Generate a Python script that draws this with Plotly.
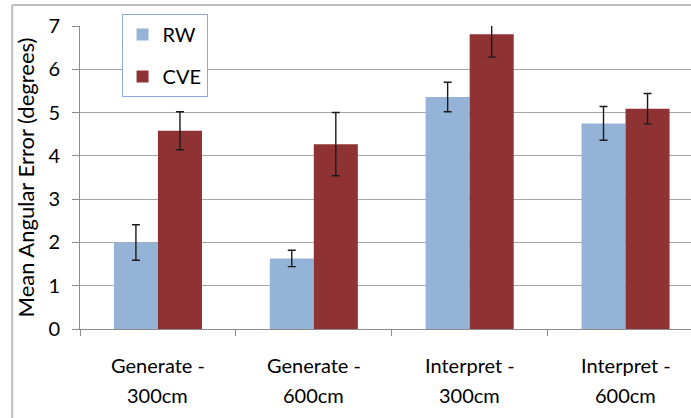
import plotly.graph_objects as go

# Conditions and per-technique results
conditions = ["Generate - 300cm", "Generate - 600cm", "Interpret - 300cm", "Interpret - 600cm"]
label_top = ["Generate -", "Generate -", "Interpret -", "Interpret -"]
label_bottom = ["300cm", "600cm", "300cm", "600cm"]

rw_mean = [2.00, 1.63, 5.36, 4.75]
rw_err = [0.41, 0.19, 0.34, 0.39]
cve_mean = [4.58, 4.27, 6.81, 5.09]
cve_err = [0.44, 0.73, 0.53, 0.35]

y_ticks = [0, 1, 2, 3, 4, 5, 6, 7]

FONT = "Lato, 'Open Sans', sans-serif"
BLUE = "#95b3d7"
RED = "#8f3234"
GRID = "#a6a6a6"

err_style = dict(type="data", visible=True, thickness=1.4, width=4, color="#1a1a1a")

fig = go.Figure()
fig.add_trace(go.Bar(
    x=conditions, y=rw_mean, name="RW", legendgroup="rw",
    marker=dict(color=BLUE, line=dict(width=0)),
    error_y=dict(array=rw_err, **err_style),
))
fig.add_trace(go.Bar(
    x=conditions, y=cve_mean, name="CVE", legendgroup="cve",
    marker=dict(color=RED, line=dict(width=0)),
    error_y=dict(array=cve_err, **err_style),
))

# Two-line category labels below the axis
for c, top, bot in zip(conditions, label_top, label_bottom):
    fig.add_annotation(x=c, xref="x", y=-0.12, yref="paper", text=top,
                       showarrow=False, font=dict(family=FONT, size=20, color="#000"),
                       yanchor="middle")
    fig.add_annotation(x=c, xref="x", y=-0.218, yref="paper", text=bot,
                       showarrow=False, font=dict(family=FONT, size=20, color="#000"),
                       yanchor="middle")

# Outer chart frame (left and top edges)
fig.add_shape(type="line", xref="paper", yref="paper", x0=-0.111, x1=-0.111, y0=-0.3, y1=1.069,
              line=dict(color="#bdbdbd", width=2))
fig.add_shape(type="line", xref="paper", yref="paper", x0=-0.111, x1=1.0, y0=1.069, y1=1.069,
              line=dict(color="#bdbdbd", width=2))

fig.update_layout(
    width=691, height=418,
    margin=dict(l=80, r=0, t=26, b=89),
    paper_bgcolor="white", plot_bgcolor="white",
    barmode="group", bargap=0.435, bargroupgap=0,
    font=dict(family=FONT, size=20, color="#000"),
    showlegend=True,
    legend=dict(
        x=0.068, y=1.04, xanchor="left", yanchor="top",
        bordercolor="#8eaadb", borderwidth=1, bgcolor="white",
        font=dict(family=FONT, size=20, color="#000"),
        traceorder="grouped", tracegroupgap=13,
    ),
    xaxis=dict(
        type="category", range=[-0.5, 3.42],
        showticklabels=False, showgrid=False,
        showline=True, linecolor="#8c8c8c", linewidth=1,
        ticks="outside", tickson="boundaries", ticklen=6, tickcolor="#8c8c8c",
    ),
    yaxis=dict(
        range=[0, 7], tickvals=y_ticks,
        showgrid=True, gridcolor=GRID, gridwidth=1,
        showline=True, linecolor="#8c8c8c", linewidth=1,
        ticks="outside", ticklen=7, tickcolor="#8c8c8c",
        tickfont=dict(family=FONT, size=20, color="#000"),
        ticklabelstandoff=8,
        zeroline=False,
        title=dict(text="Mean Angular Error (degrees)", standoff=7,
                   font=dict(family=FONT, size=22, color="#000")),
    ),
)

fig.write_html("out.html")
